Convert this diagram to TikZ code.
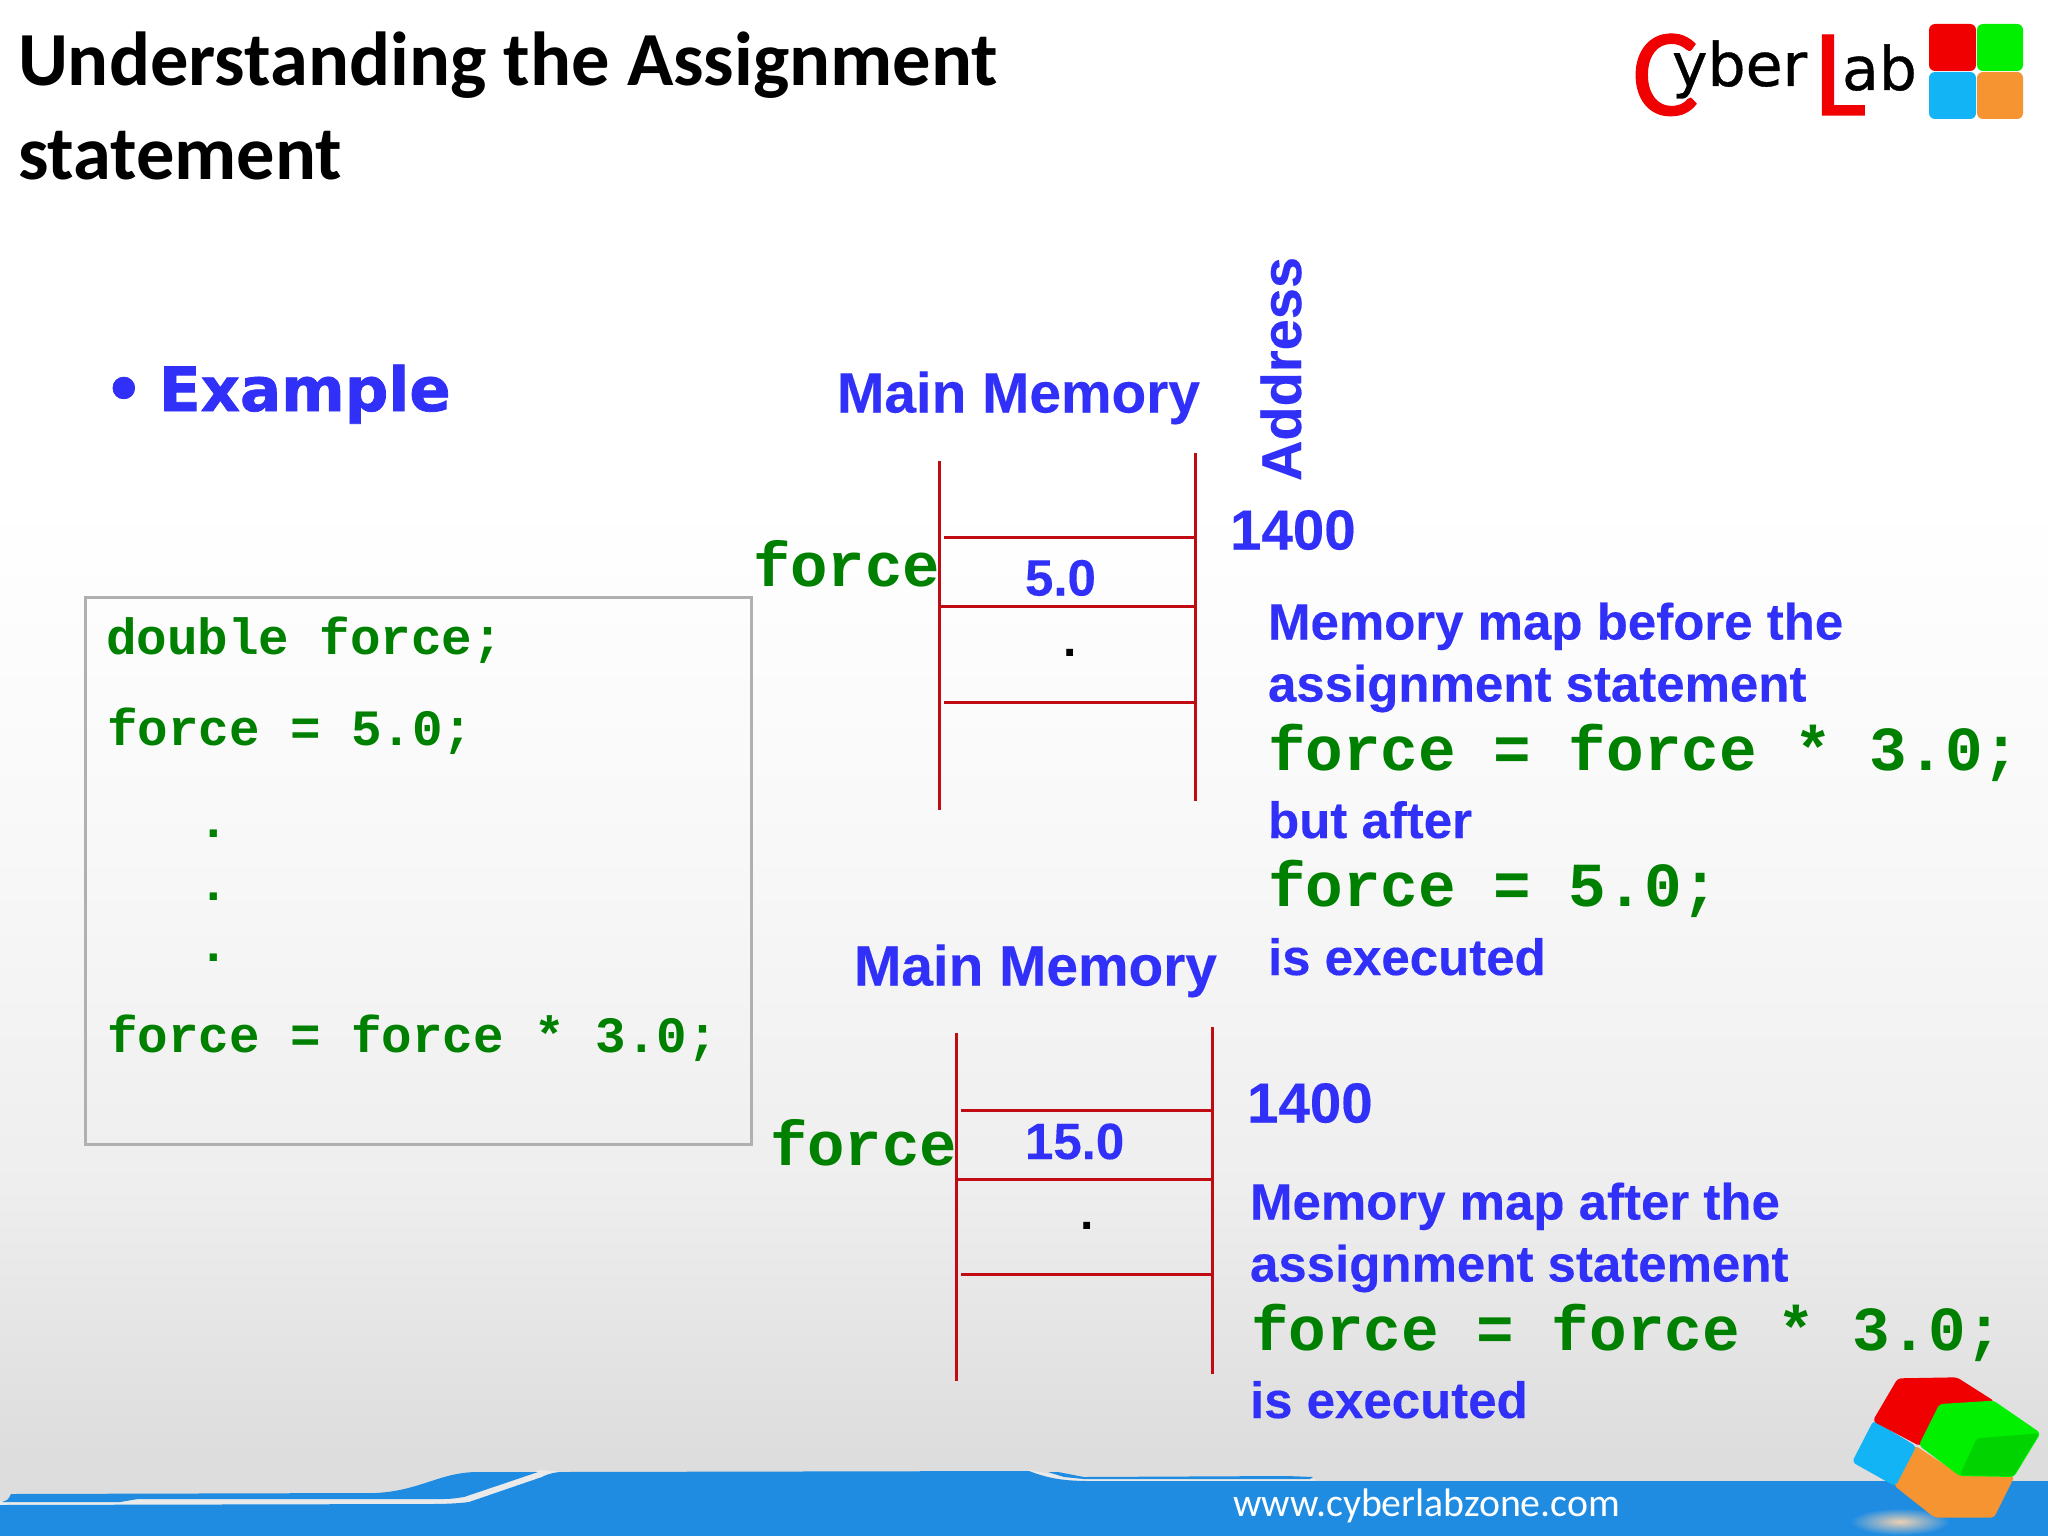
\documentclass[tikz,border=0pt]{standalone}
\usepackage{fontspec}
\setmainfont{Liberation Sans}
\newfontfamily\carl{Carlito}
\newfontfamily\carlfat[FakeBold=0.8]{Carlito}
\newfontfamily\libs{Liberation Sans}
\newfontfamily\libsfat[UprightFont=* Bold,FakeBold=0.25]{Liberation Sans}
\newfontfamily\libm{Liberation Mono}
\newfontfamily\dejavsemi[FakeBold=0.6]{DejaVu Sans}
\newfontfamily\dejavfat[UprightFont=* Bold,FakeBold=1.2]{DejaVu Sans}
\definecolor{tblue}{HTML}{3030F8}
\definecolor{tgreen}{HTML}{008000}
\definecolor{mred}{HTML}{C00A14}
\definecolor{band}{HTML}{1F8CE2}
\definecolor{boxgray}{HTML}{B0B0B0}
\definecolor{gapgray}{HTML}{EAEAEA}
\definecolor{lred}{HTML}{F00000}
\definecolor{lgreen}{HTML}{00F000}
\definecolor{lblue}{HTML}{12B4F5}
\definecolor{lorange}{HTML}{F59431}
\definecolor{bgA}{HTML}{F8F8F8}
\definecolor{bgB}{HTML}{EEEEEE}
\definecolor{bgbottom}{HTML}{DDDDDD}
\newcommand{\fs}[1]{\fontsize{#1pt}{#1pt}\selectfont}
\tikzset{
  lbl/.style={anchor=base west,inner sep=0pt,outer sep=0pt},
  titletxt/.style={lbl,text=black,font=\carl\bfseries\fs{76.5}},
  bluetxt/.style={lbl,text=tblue,font=\libsfat\fs{51}},
  bluebig/.style={lbl,text=tblue,font=\libsfat\fs{56.5}},
  cellval/.style={lbl,text=tblue,font=\libsfat\fs{51}},
  codesm/.style={lbl,text=tgreen,font=\libm\bfseries\fs{50.9}},
  codebig/.style={lbl,text=tgreen,font=\libm\bfseries\fs{62.7}},
  blackdot/.style={lbl,text=black,font=\libs\bfseries\fs{48}},
  memline/.style={draw=mred,line width=3pt},
  logotxt/.style={lbl,text=black,font=\dejavsemi\fs{60}},
  logored/.style={lbl,text=lred,font=\carlfat\fs{125}},
  cubeface/.style={line width=2pt,line join=round,rounded corners=3pt},
}
\begin{document}
\begin{tikzpicture}[x=1pt,y=-1pt]
\useasboundingbox (0,0) rectangle (2048,1536);
% background
\fill[white] (0,0) rectangle (2048,501);
\shade[top color=white,bottom color=bgA] (0,500) rectangle (2048,851);
\shade[top color=bgA,bottom color=bgB] (0,850) rectangle (2048,1188);
\shade[top color=bgB,bottom color=bgbottom] (0,1187) rectangle (2048,1456);
\fill[bgbottom] (0,1455) rectangle (2048,1536);
% bottom band
\fill[gapgray] (0,1501) -- (138,1498) -- (464,1496) -- (540,1470) -- (565,1472) -- (469,1506) -- (0,1506) -- cycle;
\fill[gapgray] (1028,1470) -- (1080,1479) -- (1315,1479) -- (1315,1483) -- (1080,1483) -- (1028,1472) -- cycle;
\fill[band] (0,1505) -- (430,1504) .. controls (450,1504) and (462,1503) .. (469,1502) -- (542,1477) .. controls (550,1473) and (556,1472) .. (563,1472) -- (1029,1471) .. controls (1045,1477) and (1058,1481) .. (1090,1481) -- (2048,1481) -- (2048,1536) -- (0,1536) -- cycle;
\fill[band] (11,1494) -- (375,1493) .. controls (420,1491) and (440,1472) .. (478,1472) -- (538,1472) -- (464,1497) .. controls (450,1499) .. (440,1499) -- (138,1499) -- (120,1502) -- (2,1502) .. controls (8,1500) .. (11,1494) -- cycle;
\fill[band] (1048,1472) -- (1058,1472) -- (1084,1477) -- (1287,1476) -- (1313,1477) -- (1310,1479) -- (1084,1479) -- (1064,1477) -- cycle;
\node[lbl,text=white,font=\carl\fs{39.8}] (url) at (1233,1516) {www.cyberlabzone.com};
% cube
\begin{scope}[x=0.3333pt,y=-0.3333pt,shift={(1800pt,-1350pt)}]
\shade[inner color=black!8!white!70!lorange,outer color=band] (300,515) ellipse (150 and 40);
\fill[lorange,cubeface,draw=lorange] (345,290) -- (480,378) -- (640,380) -- (580,500) -- (405,500) -- (285,405) -- cycle;
\fill[lblue,cubeface,draw=lblue] (222,215) -- (345,290) -- (285,405) -- (160,335) -- cycle;
\fill[lred,cubeface,draw=lred] (295,88) -- (470,85) -- (580,155) -- (420,165) -- (360,285) -- (222,212) -- cycle;
\fill[lgreen,cubeface,draw=lgreen] (420,165) -- (580,155) -- (718,250) -- (640,378) -- (480,375) -- (360,285) -- cycle;
\fill[lgreen!88!black,rounded corners=3pt] (530,265) -- (718,250) -- (640,378) -- (480,375) -- cycle;
\end{scope}
% logo squares
\fill[lred,rounded corners=6pt] (1929,24) rectangle (1976,71);
\fill[lgreen,rounded corners=6pt] (1977,24) rectangle (2023,71);
\fill[lblue,rounded corners=6pt] (1929,72) rectangle (1976,119);
\fill[lorange,rounded corners=6pt] (1977,72) rectangle (2023,119);
\node[logored] (logoc) at (1632,115) {C};
\node[logotxt] (logoy) at (1672,86) {yber};
\node[logored] (logol) at (1814,115) {L};
\node[logotxt] (logoa) at (1842,90) {ab};
% title
\node[titletxt] (t1) at (18,86) {Understanding the Assignment};
\node[titletxt] (t2) at (18,179) {statement};
% example
\node[lbl,text=tblue,font=\dejavfat\fs{62}] (bul) at (104,411) {•};
\node[lbl,text=tblue,font=\dejavfat\fs{61}] (ex) at (159,411) {Example};
% code box
\draw[boxgray,line width=3pt] (85,597) rectangle (751,1144);
\node[codesm] (c1) at (106,654) {double force;};
\node[codesm] (c2) at (107,745) {force = 5.0;};
\node[codesm] (c3) at (198,837) {.};
\node[codesm] (c4) at (198,900) {.};
\node[codesm] (c5) at (198,961) {.};
\node[codesm] (c6) at (107,1052) {force = force * 3.0;};
% memory 1
\node[bluetxt,font=\libsfat\fs{56.8}] (mm1) at (837,412.5) {Main Memory};
\node[bluetxt,font=\libsfat\fs{56},rotate=90] (addr) at (1301,481) {Address};
\draw[memline] (939,461) -- (939,810);
\draw[memline] (1195,453) -- (1195,801);
\draw[memline] (944,537) -- (1195,537);
\draw[memline] (939,606) -- (1195,606);
\draw[memline] (944,702) -- (1195,702);
\node[codebig,font=\libm\bfseries\fs{62.3}] (f1) at (753,586) {force};
\node[bluebig] (a1) at (1230,549.5) {1400};
\node[cellval] (v1) at (1025,595.5) {5.0};
\node[blackdot] (d1) at (1063,656) {.};
\node[bluetxt] (m1) at (1268,639.5) {Memory map before the};
\node[bluetxt] (m2) at (1268,701.5) {assignment statement};
\node[codebig] (m3) at (1268,770) {force = force * 3.0;};
\node[bluetxt] (m4) at (1268,838) {but after};
\node[codebig] (m5) at (1268,906) {force = 5.0;};
\node[bluetxt] (m6) at (1268,975) {is executed};
% memory 2
\node[bluetxt,font=\libsfat\fs{56.8}] (mm2) at (854,985.5) {Main Memory};
\draw[memline] (956,1033) -- (956,1381);
\draw[memline] (1212,1027) -- (1212,1374);
\draw[memline] (961,1110) -- (1212,1110);
\draw[memline] (956,1179) -- (1212,1179);
\draw[memline] (961,1274) -- (1212,1274);
\node[codebig,font=\libm\bfseries\fs{62.3}] (f2) at (770,1165) {force};
\node[bluebig] (a2) at (1247,1122.5) {1400};
\node[cellval] (v2) at (1025,1159) {15.0};
\node[blackdot] (d2) at (1080,1229) {.};
\node[bluetxt] (n1) at (1250,1219.5) {Memory map after the};
\node[bluetxt] (n2) at (1250,1281.5) {assignment statement};
\node[codebig] (n3) at (1251,1350) {force = force * 3.0;};
\node[bluetxt] (n4) at (1250,1418) {is executed};
\end{tikzpicture}
\end{document}
